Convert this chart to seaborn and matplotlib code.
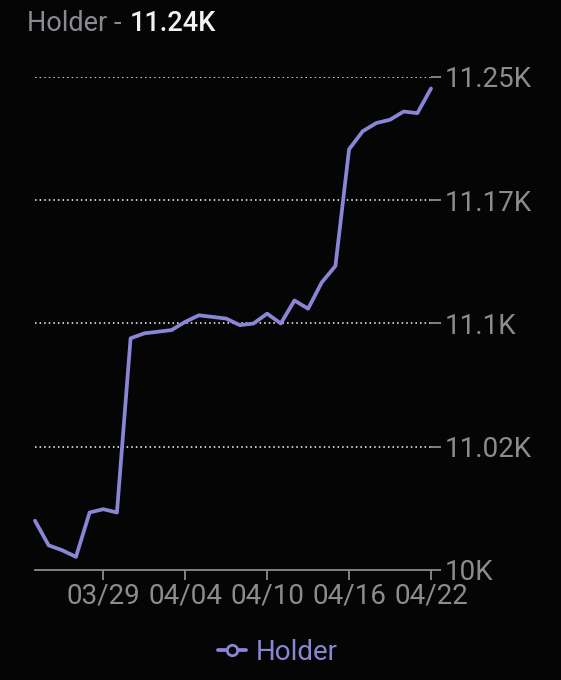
import numpy as np
import pandas as pd
import seaborn as sns
import matplotlib.pyplot as plt
import matplotlib.dates as mdates
from matplotlib.lines import Line2D

# ---- data ----
dates = pd.date_range("2024-03-24", "2024-04-22", freq="D")
holders = [10980, 10965, 10962, 10958, 10985, 10987, 10985, 11091, 11094, 11095,
           11096, 11101, 11105, 11104, 11103, 11099, 11100, 11106, 11100, 11114,
           11109, 11125, 11135, 11206, 11217, 11222, 11224, 11229, 11228, 11243]
tick_dates = ["2024-03-29", "2024-04-04", "2024-04-10", "2024-04-16", "2024-04-22"]
y_ticks = [10950, 11025, 11100, 11175, 11250]
y_labels = ["10K", "11.02K", "11.1K", "11.17K", "11.25K"]
title_left = "Holder - "
title_value = "11.24K"
series_name = "Holder"

df = pd.DataFrame({"date": dates, "Holder": holders})

LINE = "#8a85d6"
GRAY = "#8c8c8c"
BG = "#050505"

sns.set_style("dark", {"axes.facecolor": BG, "figure.facecolor": BG})
plt.rcParams["font.family"] = ["Roboto", "DejaVu Sans"]

fig = plt.figure(figsize=(5.61, 6.8), dpi=100)
fig.patch.set_facecolor(BG)
ax = fig.add_axes([35 / 561, 1 - 570 / 680, (431 - 35) / 561, 493 / 680])
ax.set_facecolor(BG)

sns.lineplot(data=df, x="date", y="Holder", ax=ax, color=LINE, linewidth=2.7,
             solid_joinstyle="round", solid_capstyle="round", legend=False)
for ln in ax.lines:
    ln.set_clip_on(False)

ax.set_xlim(dates[0], dates[-1])
ax.set_ylim(y_ticks[0], y_ticks[-1])
ax.set_xlabel("")
ax.set_ylabel("")

ax.set_xticks(pd.to_datetime(tick_dates))
ax.xaxis.set_major_formatter(mdates.DateFormatter("%m/%d"))
ax.yaxis.tick_right()
ax.set_yticks(y_ticks)
ax.set_yticklabels(y_labels)

ax.tick_params(axis="x", colors=GRAY, labelcolor=GRAY, labelsize=20,
               length=7, width=1.3, direction="out", pad=2, bottom=True)
ax.tick_params(axis="y", colors=GRAY, labelcolor=GRAY, labelsize=20,
               length=7, width=1.3, direction="out", pad=2.5, right=True, left=False)

for s in ["top", "left", "right"]:
    ax.spines[s].set_visible(False)
ax.spines["bottom"].set_color(GRAY)
ax.spines["bottom"].set_linewidth(1.3)

ax.grid(False)
for yv in y_ticks[1:]:
    ax.axhline(yv, color="white", linestyle=(0, (1, 2)), linewidth=1.1, zorder=0)

# title
fig.text(27 / 561, 1 - 31 / 680, title_left, color="#8a8a92", fontsize=19.5,
         ha="left", va="baseline")
fig.text(130 / 561, 1 - 31 / 680, title_value, color="#f2f2f2", fontsize=19.5,
         ha="left", va="baseline", fontweight="medium")

# legend
handle = Line2D([0], [0], color=LINE, linewidth=2.7, marker="o", markersize=7.5,
                markerfacecolor=BG, markeredgecolor=LINE, markeredgewidth=2)
leg = fig.legend([handle], [series_name], loc="center",
                 bbox_to_anchor=(278 / 561, 1 - 652 / 680), frameon=False,
                 fontsize=20, handlelength=1.0, handletextpad=0.35)
for t in leg.get_texts():
    t.set_color(LINE)

fig.savefig("out.png", dpi=100, facecolor=BG)
